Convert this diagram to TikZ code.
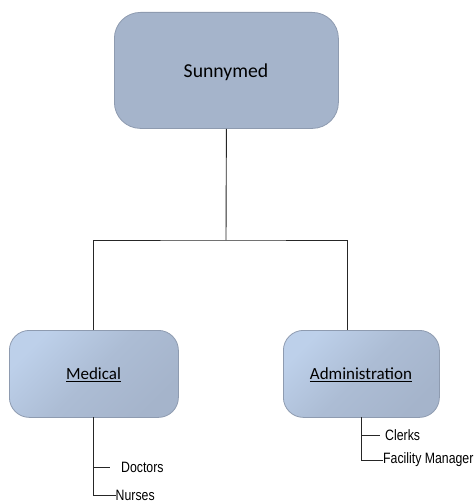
\documentclass[tikz,border=0pt]{standalone}
\usepackage{fontspec}
\setmainfont{Carlito}
\newfontfamily\narrowfont[FakeStretch=0.82]{Liberation Sans}
\definecolor{boxfill}{HTML}{A5B4CB}
\definecolor{boxlight}{HTML}{BDD0EA}
\definecolor{boxedge}{HTML}{8E9BB0}
\tikzset{
  orgbox/.style={draw=boxedge, line width=0.8pt, rounded corners=#1,
    inner sep=0pt, anchor=north west},
  deptbox/.style={orgbox=20pt, top color=boxlight, bottom color=boxfill,
    middle color=boxfill!70!boxlight, shading angle=45, minimum height=87pt},
  tie/.style={draw=black!85, line width=0.9pt},
  staff/.style={font=\narrowfont\fontsize{15}{16}\selectfont, anchor=west, inner sep=0pt}
}
\begin{document}
\begin{tikzpicture}[x=1pt,y=-1pt]
\useasboundingbox (0,0) rectangle (474,503);
% top level
\node[orgbox=26pt, fill=boxfill, minimum width=224pt, minimum height=116pt] (top) at (114,12) {};
\node (toplbl) at (226,72) {\fontsize{19.7}{22}\selectfont Sunnymed};
% departments
\node[deptbox, minimum width=169pt] (med) at (9,330) {};
\node[deptbox, minimum width=156pt] (adm) at (283,330) {};
\node (medlbl) at (93.5,375) {\fontsize{17}{20}\selectfont\underline{Medical}};
\node (admlbl) at (361,375) {\fontsize{17}{20}\selectfont\underline{Administration}};
% connectors from the top box
\coordinate (split) at (226,240);
\draw[tie] (top.south) -- (split);
\draw[tie] (93,330) |- (split) -| (347,330);
% staff under Medical
\node[staff] (doc) at (121,467) {Doctors};
\node[staff] (nur) at (115.5,495) {Nurses};
\draw[tie] (93,417) |- (110,467);
\draw[tie] (93,467) |- (nur.west);
% staff under Administration
\node[staff] (clk) at (385,435) {Clerks};
\node[staff] (fac) at (383,460) {Facility Manager};
\draw[tie] (361,417) |- (380,435);
\draw[tie] (361,435) |- (fac.west);
\end{tikzpicture}
\end{document}
